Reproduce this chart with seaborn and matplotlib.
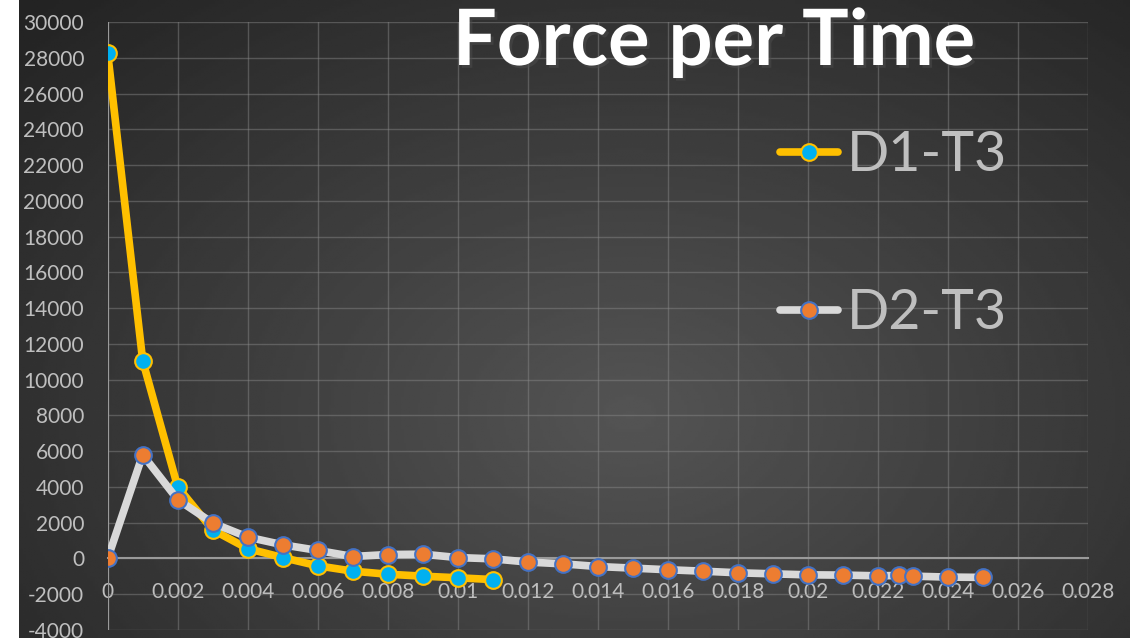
import numpy as np
import pandas as pd
import matplotlib
matplotlib.use("Agg")
import matplotlib.pyplot as plt
import matplotlib.patheffects as pe
from matplotlib.lines import Line2D
import seaborn as sns

# data
d1_time = [0.0, 0.001, 0.002, 0.003, 0.004, 0.005, 0.006, 0.007, 0.008, 0.009, 0.010, 0.011]
d1_force = [28250, 11050, 4000, 1600, 550, 50, -410, -710, -880, -990, -1080, -1180]

d2_time = [0.0, 0.001, 0.002, 0.003, 0.004, 0.005, 0.006, 0.007, 0.008, 0.009,
           0.010, 0.011, 0.012, 0.013, 0.014, 0.015, 0.016, 0.017, 0.018, 0.019,
           0.020, 0.021, 0.022, 0.0226, 0.023, 0.024, 0.025]
d2_force = [0, 5800, 3290, 1980, 1195, 765, 450, 110, 220, 240,
            50, -20, -200, -300, -450, -540, -630, -710, -800, -860,
            -915, -930, -970, -950, -990, -1040, -1060]

series_names = ["D1-T3", "D2-T3"]
x_ticks = np.arange(0, 0.0281, 0.002)
y_ticks = np.arange(-4000, 30001, 2000)

df1 = pd.DataFrame({"time": d1_time, "force": d1_force})
df2 = pd.DataFrame({"time": d2_time, "force": d2_force})

sns.set_theme(style="dark")
plt.rcParams['font.family'] = ['Lato', 'DejaVu Sans']

fig = plt.figure(figsize=(11.3, 6.38), dpi=100)
fig.patch.set_facecolor("white")

# radial gradient background
bg = fig.add_axes([19 / 1130, 0, 1 - 19 / 1130, 1], zorder=-10)
gx, gy = np.meshgrid(np.linspace(0, 1, 400), np.linspace(0, 1, 240))
r = np.sqrt(((gx - 0.55) / 0.75) ** 2 + ((gy - 0.35) / 0.9) ** 2)
r = np.clip(r, 0, 1)
bg.imshow(0.33 - 0.19 * r, cmap="gray", vmin=0, vmax=1, aspect="auto",
          extent=[0, 1, 0, 1], origin="lower")
bg.axis("off")

ax = fig.add_axes([107.7 / 1130, 8 / 638, (1088 - 107.7) / 1130, (630 - 22) / 638])
ax.set_facecolor("none")

sns.lineplot(data=df1, x="time", y="force", ax=ax, color="#FFC000", linewidth=5.5,
             marker="o", markersize=12, markerfacecolor="#00B0F0",
             markeredgecolor="#FFC000", markeredgewidth=1.5, zorder=3)
sns.lineplot(data=df2, x="time", y="force", ax=ax, color="#D9D9D9", linewidth=5.5,
             marker="o", markersize=12, markerfacecolor="#ED7D31",
             markeredgecolor="#4472C4", markeredgewidth=1.5, zorder=4)

ax.set_xlim(0, 0.028)
ax.set_ylim(-4000, 30000)
ax.set_xticks(x_ticks)
ax.set_yticks(y_ticks)
ax.set_xticklabels(["0" if v == 0 else f"{v:.3f}".rstrip("0") for v in x_ticks])
ax.set_yticklabels([str(int(v)) for v in y_ticks])
ax.set_xlabel("")
ax.set_ylabel("")

ax.grid(True, color="#8a8a8a", alpha=0.45, linewidth=1)
for s in ["top", "right", "left"]:
    ax.spines[s].set_visible(False)
ax.spines["bottom"].set_position(("data", 0))
ax.spines["bottom"].set_color("#9a9a9a")
ax.spines["bottom"].set_linewidth(1.5)
ax.axvline(0, color="#9a9a9a", linewidth=1.5, zorder=1)
ax.tick_params(axis="x", length=0, pad=17, labelsize=15, labelcolor="#BFBFBF")
ax.tick_params(axis="y", length=0, pad=17, labelsize=15, labelcolor="#BFBFBF")

fig.text(0.632, 1 - 65 / 638, "Force per Time", fontsize=56, fontweight="bold",
         color="white", ha="center", va="baseline",
         path_effects=[pe.withSimplePatchShadow(offset=(2, -2), alpha=0.5)])

handles = [
    Line2D([], [], color="#FFC000", linewidth=5.5, marker="o", markersize=12,
           markerfacecolor="#00B0F0", markeredgecolor="#FFC000", markeredgewidth=1.5),
    Line2D([], [], color="#D9D9D9", linewidth=5.5, marker="o", markersize=12,
           markerfacecolor="#ED7D31", markeredgecolor="#4472C4", markeredgewidth=1.5),
]
leg = fig.legend(handles, series_names, loc="upper left",
                 bbox_to_anchor=(730 / 1130, 1 - 80 / 638), frameon=False,
                 fontsize=40, handlelength=1.05, handletextpad=0.15,
                 labelspacing=1.93, labelcolor="#BFBFBF")

fig.savefig("out.png", dpi=100, facecolor=fig.get_facecolor())
